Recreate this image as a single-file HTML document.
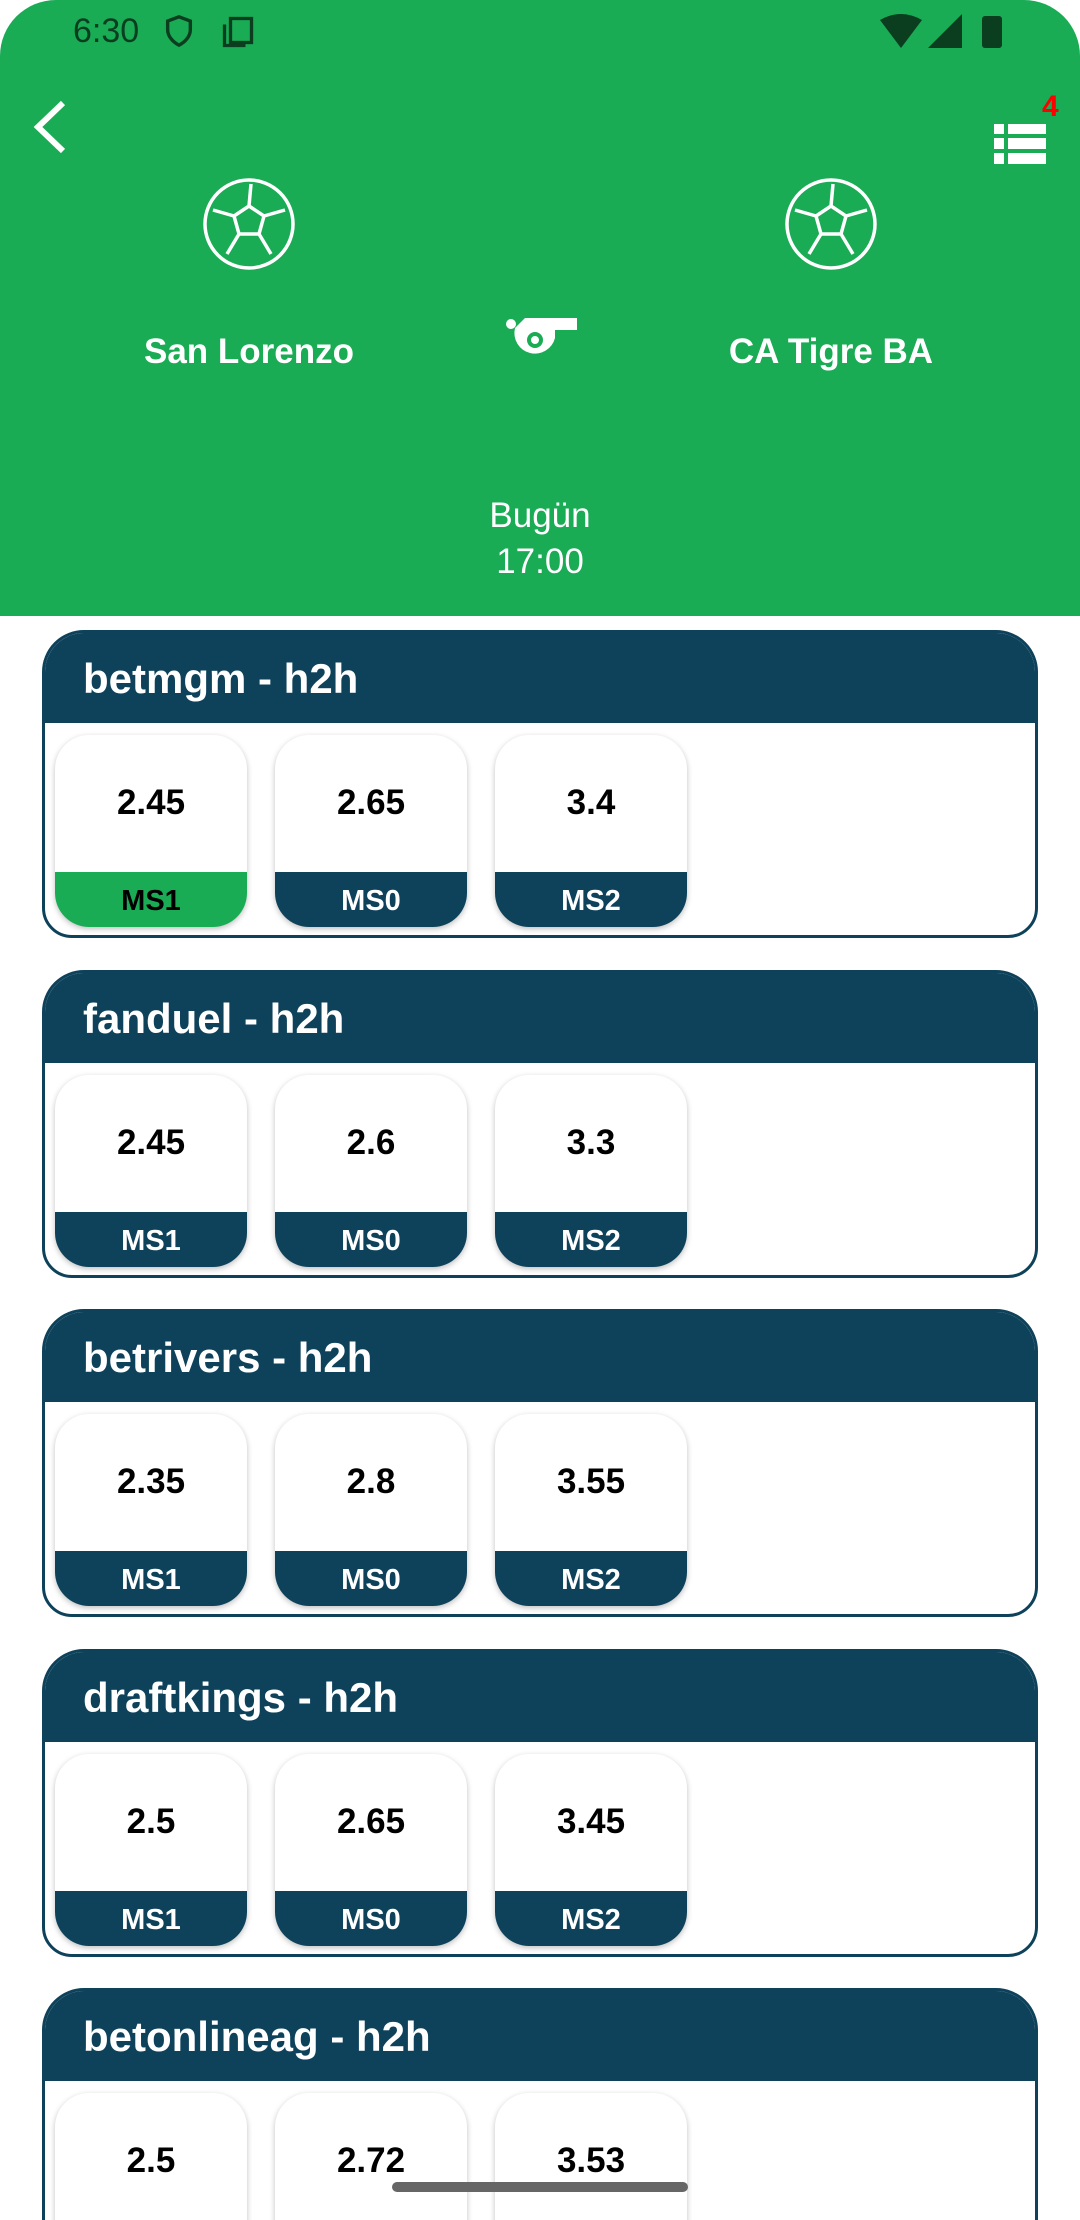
<!DOCTYPE html>
<html><head><meta charset="utf-8">
<style>
*{box-sizing:border-box;margin:0;padding:0}
html,body{width:1080px;height:2220px;overflow:hidden}
body{background:#fff;font-family:"Liberation Sans",sans-serif}
#root{position:relative;width:1080px;height:2220px;overflow:hidden;background:#fff}
#header{position:absolute;left:0;top:0;width:1080px;height:616px;background:#1aab55;border-radius:56px 56px 0 0}
.abs{position:absolute}
.team{position:absolute;width:400px;text-align:center;color:#fff;font-weight:bold;font-size:35px;top:332px}
.card{position:absolute;left:42px;width:996px;height:308px;border:3px solid #0e425b;border-radius:42px 42px 30px 30px;overflow:hidden;background:#fff}
.card-head{height:90px;background:#0e425b;color:#fff;font-weight:bold;font-size:42px;padding-left:38px;line-height:92px}
.odd{position:absolute;top:102px;width:192px;height:192px;border-radius:34px;overflow:hidden;background:#fff;box-shadow:0 2px 6px rgba(0,0,0,.25)}
.odd .v{position:absolute;top:0;left:0;width:100%;height:137px;text-align:center;line-height:136px;font-weight:bold;font-size:35px;color:#000}
.odd .l{position:absolute;bottom:0;left:0;width:100%;height:55px;background:#0e425b;color:#fff;text-align:center;line-height:58px;font-weight:bold;font-size:29px}
.odd .l.sel{background:#1aab55;color:#000}
</style></head><body>
<div id="root">
<div id="header">
  <div class="abs" style="left:73px;top:12px;font-size:34px;color:#0b3d1f">6:30</div>
  <svg class="abs" style="left:162px;top:14px" width="34" height="34" viewBox="0 0 24 24"><path d="M12 2 L20 5 V11 C20 16 16 20 12 22 C8 20 4 16 4 11 V5 Z" fill="none" stroke="#0b3d1f" stroke-width="2.4"/></svg>
  <svg class="abs" style="left:220px;top:14px" width="36" height="36" viewBox="0 0 24 24"><rect x="7" y="3" width="14" height="16" fill="none" stroke="#0b3d1f" stroke-width="2.2"/><path d="M3 7 V21 H17" fill="none" stroke="#0b3d1f" stroke-width="2.2"/></svg>
  <svg class="abs" style="left:880px;top:14px" width="42" height="34" viewBox="0 0 42 34"><path d="M0 6 Q21 -6 42 6 L21 34 Z" fill="#0b3d1f"/></svg>
  <svg class="abs" style="left:928px;top:14px" width="34" height="34" viewBox="0 0 34 34"><path d="M34 0 V34 H0 Z" fill="#0b3d1f"/></svg>
  <div class="abs" style="left:982px;top:16px;width:20px;height:32px;background:#0b3d1f;border-radius:3px"></div>
  <svg class="abs" style="left:30px;top:100px" width="40" height="54" viewBox="0 0 40 54"><path d="M33 3 L8 27 L33 51" fill="none" stroke="#fff" stroke-width="6"/></svg>
  <svg class="abs" style="left:994px;top:124px" width="52" height="40" viewBox="0 0 52 40"><g fill="#fff"><rect x="0" y="0" width="10" height="10"/><rect x="14" y="0" width="38" height="10"/><rect x="0" y="14" width="10" height="11"/><rect x="14" y="14" width="38" height="11"/><rect x="0" y="29" width="10" height="11"/><rect x="14" y="29" width="38" height="11"/></g></svg>
  <div class="abs" style="left:1042px;top:90px;color:#f00;font-weight:bold;font-size:30px">4</div>
  <svg class="abs" style="left:201px;top:176px" width="96" height="96" viewBox="0 0 96 96"><g fill="none" stroke="#fff" stroke-width="3.5"><circle cx="48" cy="48" r="44"/><path d="M48 30 L63 40 L58 58 L38 58 L33 40 Z"/><path d="M48 30 L50 8 M63 40 L84 34 M58 58 L70 78 M38 58 L26 78 M33 40 L12 34"/></g></svg>
  <svg class="abs" style="left:783px;top:176px" width="96" height="96" viewBox="0 0 96 96"><g fill="none" stroke="#fff" stroke-width="3.5"><circle cx="48" cy="48" r="44"/><path d="M48 30 L63 40 L58 58 L38 58 L33 40 Z"/><path d="M48 30 L50 8 M63 40 L84 34 M58 58 L70 78 M38 58 L26 78 M33 40 L12 34"/></g></svg>
  <div class="team" style="left:49px">San Lorenzo</div>
  <div class="team" style="left:631px">CA Tigre BA</div>
  <svg class="abs" style="left:505px;top:316px" width="72" height="50" viewBox="0 0 72 50"><circle cx="6" cy="8" r="5" fill="#fff"/><path d="M10 12 A20 20 0 1 0 50 22 L50 14 L72 14 L72 2 L20 2 Z" fill="#fff"/><circle cx="30" cy="24" r="8" fill="#1aab55"/><circle cx="30" cy="24" r="4" fill="#fff"/></svg>
  <div class="abs" style="left:0;width:1080px;text-align:center;top:496px;color:#fff;font-size:35px">Bugün</div>
  <div class="abs" style="left:0;width:1080px;text-align:center;top:542px;color:#fff;font-size:35px">17:00</div>
</div>
<div id="cards"></div>
<div class="abs" style="left:392px;top:2182px;width:296px;height:10px;border-radius:5px;background:#666;z-index:5"></div>
</div>
<script>
const bookmakers=["betmgm","fanduel","betrivers","draftkings","betonlineag"];
const ms1Values=["2.45","2.45","2.35","2.5","2.5"];
const ms0Values=["2.65","2.6","2.8","2.65","2.72"];
const ms2Values=["3.4","3.3","3.55","3.45","3.53"];
const labels=["MS1","MS0","MS2"];
const selected=[0,-1,-1,-1,-1];
const wrap=document.getElementById('cards');
bookmakers.forEach((b,i)=>{
  const c=document.createElement('div');
  c.className='card';
  c.style.top=(630+i*339.5)+'px';
  
  
  const h=document.createElement('div');
  h.className='card-head';
  h.textContent=b+' - h2h';
  
  
  c.appendChild(h);
  const vals=[ms1Values[i],ms0Values[i],ms2Values[i]];
  vals.forEach((v,j)=>{
    const o=document.createElement('div');
    o.className='odd';
    o.style.left=(10+j*220)+'px';
    
    
    const vv=document.createElement('div');vv.className='v';vv.textContent=v;
    
    
    const l=document.createElement('div');l.className='l'+(selected[i]===j?' sel':'');l.textContent=labels[j];
    
    
    o.appendChild(vv);o.appendChild(l);c.appendChild(o);
  });
  wrap.appendChild(c);
});
</script>
</body></html>
